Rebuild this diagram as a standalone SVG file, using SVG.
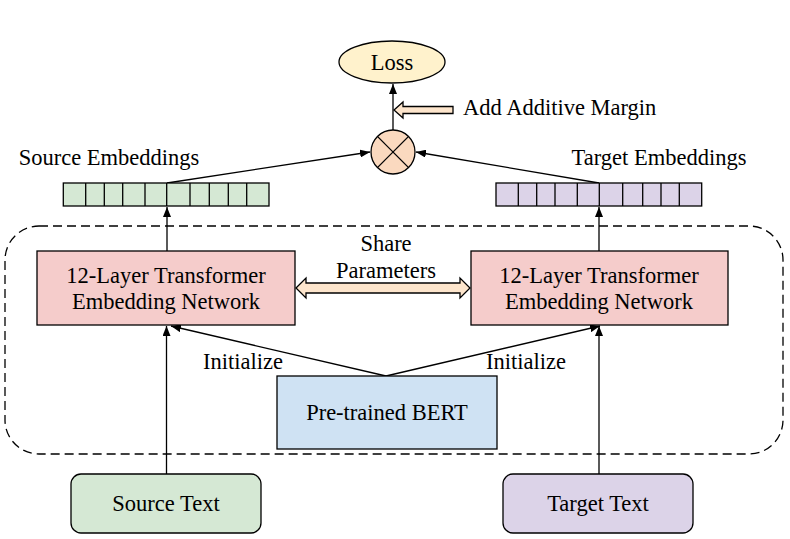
<svg xmlns="http://www.w3.org/2000/svg" width="790" height="539" viewBox="0 0 790 539">
<style>
text{font-family:"Liberation Serif","Times New Roman",serif;font-size:22.5px;fill:#000;text-anchor:middle}
.b{stroke:#000;stroke-width:1.3}
.ln{stroke:#000;stroke-width:1.3;fill:none}
</style>
<defs>
<marker id="ah" viewBox="0 0 10 8" refX="10" refY="4" markerWidth="10" markerHeight="8" markerUnits="userSpaceOnUse" orient="auto">
<path d="M0,0 L10,4 L0,8 Z" fill="#000"/>
</marker>
</defs>
<rect width="790" height="539" fill="#fff"/>
<g id="container">
<rect x="5" y="226" width="778" height="228" rx="34" fill="none" stroke="#000" stroke-width="1.3" stroke-dasharray="9,5"/>
</g>
<g id="connectors">
<line class="ln" x1="393" y1="130" x2="393" y2="84" marker-end="url(#ah)"/>
<line class="ln" x1="167" y1="183" x2="370" y2="152" marker-end="url(#ah)"/>
<line class="ln" x1="599" y1="183" x2="416" y2="152" marker-end="url(#ah)"/>
<line class="ln" x1="167" y1="251" x2="167" y2="207" marker-end="url(#ah)"/>
<line class="ln" x1="599" y1="251" x2="599" y2="207" marker-end="url(#ah)"/>
<line class="ln" x1="386" y1="376" x2="171" y2="326" marker-end="url(#ah)"/>
<line class="ln" x1="386" y1="376" x2="600" y2="326" marker-end="url(#ah)"/>
<line class="ln" x1="166.5" y1="474" x2="166.5" y2="326" marker-end="url(#ah)"/>
<line class="ln" x1="599" y1="474" x2="599" y2="326" marker-end="url(#ah)"/>
<path class="b" fill="#fde5cc" d="M453,106.5 L403,106.5 L403,102 L394,110 L403,118 L403,113.5 L453,113.5 Z"/>
<path class="b" fill="#fde5cc" d="M296,288 L306,278 L306,283 L460,283 L460,278 L470,288 L460,298 L460,293 L306,293 L306,298 Z"/>
</g>
<g id="loss">
<ellipse cx="392" cy="62" rx="53" ry="21" fill="#fff2cc" class="b"/>
<text x="392" y="69.5">Loss</text>
</g>
<g id="margin-label"><text x="463" y="115" style="text-anchor:start">Add Additive Margin</text></g>
<g id="combine">
<circle cx="393" cy="152" r="22" fill="#fad9bf" class="b"/>
<line class="ln" x1="377.4" y1="136.4" x2="408.6" y2="167.6"/>
<line class="ln" x1="408.6" y1="136.4" x2="377.4" y2="167.6"/>
</g>
<g id="source-emb">
<text x="109" y="165">Source Embeddings</text>
<rect x="63.3" y="183" width="205.7" height="23" fill="#d5e8d4" class="b"/>
<path class="ln" d="M85.7,183V206M104.3,183V206M122.7,183V206M145,183V206M166.7,183V206M190,183V206M209.3,183V206M228.3,183V206M246.7,183V206"/>
</g>
<g id="target-emb">
<text x="659" y="165">Target Embeddings</text>
<rect x="496" y="183" width="205.7" height="23" fill="#dcd3e8" class="b"/>
<path class="ln" d="M518.3,183V206M536.7,183V206M555,183V206M577.3,183V206M599.3,183V206M622.7,183V206M642.7,183V206M661,183V206M679.3,183V206"/>
</g>
<g id="left-transformer">
<rect x="37" y="251" width="258" height="74" fill="#f5cccb" class="b"/>
<text x="166" y="283">12-Layer Transformer</text>
<text x="166" y="309">Embedding Network</text>
</g>
<g id="right-transformer">
<rect x="471" y="251" width="257" height="74" fill="#f5cccb" class="b"/>
<text x="599" y="283">12-Layer Transformer</text>
<text x="599" y="309">Embedding Network</text>
</g>
<g id="share-label">
<text x="386" y="251">Share</text>
<text x="386" y="278">Parameters</text>
</g>
<g id="init-labels">
<text x="243" y="369">Initialize</text>
<text x="526" y="369">Initialize</text>
</g>
<g id="bert">
<rect x="277" y="376" width="220" height="73" fill="#cfe2f3" class="b"/>
<text x="387" y="420">Pre-trained BERT</text>
</g>
<g id="source-text">
<rect x="71" y="474" width="190" height="59" rx="10" fill="#d5e8d4" class="b"/>
<text x="166" y="511">Source Text</text>
</g>
<g id="target-text">
<rect x="503" y="474" width="190" height="59" rx="10" fill="#dcd3e8" class="b"/>
<text x="598" y="511">Target Text</text>
</g>
</svg>
